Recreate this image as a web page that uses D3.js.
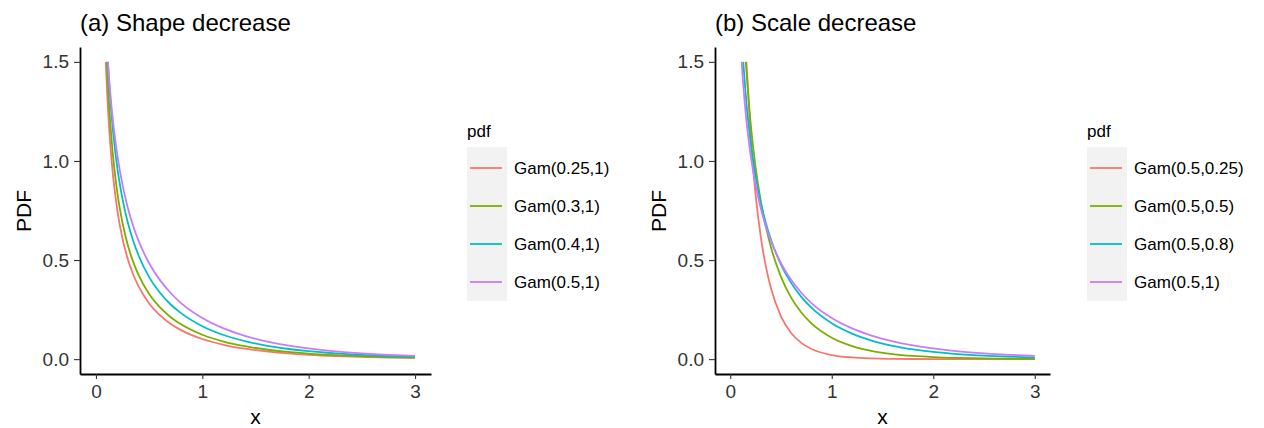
<!DOCTYPE html>
<html>
<head>
<meta charset="utf-8">
<script src="https://cdn.jsdelivr.net/npm/d3@7"></script>
<style>
  body { margin: 0; background: #fff; }
  svg { font-family: "Liberation Sans", Arial, sans-serif; }
</style>
</head>
<body>
<svg id="chart" width="1264" height="428"></svg>
<script>
// x grid shared by every curve
const xGrid = [0.1, 0.12, 0.15, 0.2, 0.25, 0.3, 0.35, 0.4, 0.5, 0.6, 0.7, 0.8, 1.0, 1.2, 1.4, 1.6, 1.8, 2.0, 2.25, 2.5, 2.75, 3.0];
const xTicks = [0, 1, 2, 3];
const yTicks = [0, 0.5, 1, 1.5];
const colors = ["#F8766D", "#7CAE00", "#00BFC4", "#C77CFF"];

// panel (a): shape decrease (null = above the 1.5 limit)
const labelsA = ["Gam(0.25,1)", "Gam(0.3,1)", "Gam(0.4,1)", "Gam(0.5,1)"];
const startA = [0.0925, 0.1015, 0.112, 0.113];
const gam025_1 = [1.403, 1.200, 0.985, 0.755, 0.607, 0.504, 0.427, 0.368, 0.281, 0.222, 0.179, 0.1465, 0.1015, 0.0725, 0.0528, 0.0391, 0.0293, 0.0222, 0.0158, 0.0114, 0.0083, 0.0060];
const gam03_1  = [null, 1.308, 1.086, 0.844, 0.687, 0.575, 0.491, 0.4255, 0.329, 0.262, 0.213, 0.1756, 0.1230, 0.0886, 0.0651, 0.0486, 0.0366, 0.0278, 0.0200, 0.0145, 0.0105, 0.0077];
const gam04_1  = [null, 1.427, 1.211, 0.969, 0.807, 0.688, 0.597, 0.524, 0.414, 0.336, 0.277, 0.232, 0.1659, 0.1217, 0.0909, 0.0687, 0.0524, 0.0402, 0.0292, 0.0214, 0.0157, 0.0116];
const gam05_1  = [null, 1.444, 1.254, 1.033, 0.879, 0.763, 0.672, 0.598, 0.484, 0.400, 0.335, 0.283, 0.2076, 0.1551, 0.1176, 0.0901, 0.0695, 0.0540, 0.0396, 0.0293, 0.0217, 0.0162];

// panel (b): scale decrease
const labelsB = ["Gam(0.5,0.25)", "Gam(0.5,0.5)", "Gam(0.5,0.8)", "Gam(0.5,1)"];
const startB = [0.159, 0.1535, 0.1283, 0.113];
const gam05_025 = [null, null, null, 1.134, 0.830, 0.6205, 0.4704, 0.3602, 0.2160, 0.1321, 0.0820, 0.0514, 0.0207, 0.0085, 0.0035, 0.0015, 0.0006, 0.0003, 0.0001, 0.0, 0.0, 0.0];
const gam05_05  = [null, null, null, 1.196, 0.968, 0.7995, 0.6698, 0.5668, 0.4151, 0.3103, 0.2352, 0.1801, 0.1080, 0.0661, 0.0410, 0.0257, 0.0162, 0.0103, 0.0059, 0.0034, 0.0020, 0.0011];
const gam05_08  = [null, null, 1.350, 1.0985, 0.923, 0.7915, 0.6884, 0.6049, 0.4775, 0.3847, 0.3143, 0.2594, 0.1807, 0.1285, 0.0927, 0.0675, 0.0496, 0.0366, 0.0253, 0.0175, 0.0122, 0.0086];
const gam05_1b  = [null, 1.444, 1.254, 1.033, 0.879, 0.763, 0.672, 0.598, 0.484, 0.400, 0.335, 0.283, 0.2076, 0.1551, 0.1176, 0.0901, 0.0695, 0.0540, 0.0396, 0.0293, 0.0217, 0.0162];

const svg = d3.select("#chart");

function drawPanel(opt) {
  let x = d3.scaleLinear().domain([-0.15, 3.15]).range([opt.left, opt.right]);
  let y = d3.scaleLinear().domain([-0.075, 1.575]).range([374, 47]);

  // curves
  let line = d3.line()
    .defined(d => d[1] !== null)
    .x(d => x(d[0]))
    .y(d => y(d[1]))
    .curve(d3.curveMonotoneX);

  opt.series.forEach((vals, i) => {
    let pts = [[opt.start[i], 1.5]].concat(
      xGrid.map((v, j) => [v, vals[j]]).filter(p => p[1] !== null && p[0] > opt.start[i]));
    svg.append("path")
      .attr("d", line(pts))
      .attr("fill", "none")
      .attr("stroke", colors[i])
      .attr("stroke-width", 1.8);
  });

  // axes
  let xaxis = d3.axisBottom(x).tickValues(xTicks).tickSize(5).tickPadding(6).tickSizeOuter(0).tickFormat(d3.format("d"));
  let yaxis = d3.axisLeft(y).tickValues(yTicks).tickSize(6).tickPadding(5).tickSizeOuter(0).tickFormat(d3.format(".1f"));

  let gx = svg.append("g").attr("transform", `translate(0,374)`).call(xaxis);
  let gy = svg.append("g").attr("transform", `translate(${opt.left},0)`).call(yaxis);
  [gx, gy].forEach(g => {
    g.select(".domain").attr("stroke", "#000").attr("stroke-width", 1.8);
    g.selectAll(".tick line").attr("stroke", "#333").attr("stroke-width", 1.1);
    g.selectAll(".tick text").attr("fill", "#333").style("font-size", "19px").style("font-family", "Liberation Sans, Arial, sans-serif");
  });

  // titles and axis labels
  svg.append("text")
    .attr("x", opt.left)
    .attr("y", 31)
    .style("font-size", "24px")
    .style("fill", "#000")
    .text(opt.title);

  svg.append("text")
    .attr("transform", `translate(${opt.left - 49},211) rotate(-90)`)
    .attr("text-anchor", "middle")
    .style("font-size", "21px")
    .text("PDF");

  svg.append("text")
    .attr("x", (opt.left + opt.right) / 2)
    .attr("y", 424)
    .attr("text-anchor", "middle")
    .style("font-size", "21px")
    .text("x");

  // legend
  let lg = svg.append("g").attr("transform", `translate(${opt.legendX},0)`);
  lg.append("text").attr("x", 0).attr("y", 137).style("font-size", "17px").text("pdf");
  lg.append("rect").attr("x", 0).attr("y", 147).attr("width", 40).attr("height", 154).attr("fill", "#f2f2f2");
  opt.labels.forEach((lab, i) => {
    let cy = 168 + i * 38;
    lg.append("line").attr("x1", 3).attr("x2", 35).attr("y1", cy).attr("y2", cy)
      .attr("stroke", colors[i]).attr("stroke-width", 1.8);
    lg.append("text").attr("x", 47).attr("y", cy + 6).style("font-size", "17px").text(lab);
  });
}

drawPanel({
  left: 80, right: 431, legendX: 467,
  title: "(a) Shape decrease",
  series: [gam025_1, gam03_1, gam04_1, gam05_1],
  start: startA, labels: labelsA
});

drawPanel({
  left: 715, right: 1050, legendX: 1087,
  title: "(b) Scale decrease",
  series: [gam05_025, gam05_05, gam05_08, gam05_1b],
  start: startB, labels: labelsB
});
</script>
</body>
</html>
